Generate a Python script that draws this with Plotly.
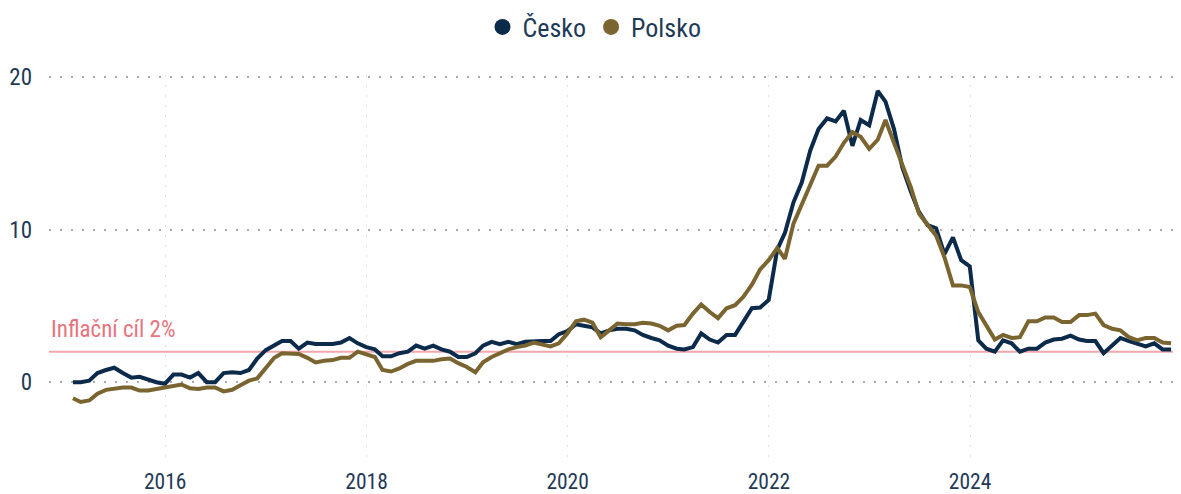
import pandas as pd
import plotly.graph_objects as go

# ---- data (annual HICP inflation, %) ----
months = (pd.date_range("2015-01-01", periods=132, freq="MS") + pd.offsets.MonthEnd(0))

cesko = [
    0.0, 0.0, 0.1, 0.6, 0.8, 0.95, 0.6, 0.3, 0.35, 0.15, 0.0, -0.1,      # 2015
    0.5, 0.5, 0.3, 0.6, 0.0, 0.0, 0.6, 0.65, 0.6, 0.8, 1.55, 2.1,        # 2016
    2.4, 2.7, 2.7, 2.2, 2.6, 2.5, 2.5, 2.5, 2.6, 2.9, 2.55, 2.3,         # 2017
    2.15, 1.7, 1.7, 1.9, 2.0, 2.4, 2.2, 2.4, 2.15, 2.0, 1.65, 1.65,      # 2018
    1.9, 2.4, 2.65, 2.5, 2.65, 2.5, 2.65, 2.7, 2.7, 2.7, 3.15, 3.35,     # 2019
    3.8, 3.7, 3.6, 3.2, 3.4, 3.5, 3.5, 3.4, 3.1, 2.9, 2.75, 2.4,         # 2020
    2.2, 2.15, 2.3, 3.2, 2.8, 2.6, 3.1, 3.1, 4.0, 4.85, 4.9, 5.4,        # 2021
    8.7, 9.8, 11.8, 13.1, 15.2, 16.6, 17.3, 17.1, 17.8, 15.5, 17.2, 16.85,  # 2022
    19.1, 18.4, 16.6, 14.1, 12.5, 11.15, 10.3, 10.1, 8.4, 9.5, 8.0, 7.6,  # 2023
    2.75, 2.2, 2.0, 2.75, 2.55, 2.0, 2.2, 2.2, 2.6, 2.8, 2.85, 3.05,     # 2024
    2.8, 2.7, 2.7, 1.9, 2.4, 2.9, 2.7, 2.5, 2.35, 2.55, 2.15, 2.15,      # 2025
]

polsko = [
    -1.05, -1.3, -1.2, -0.75, -0.5, -0.4, -0.35, -0.35, -0.55, -0.55, -0.45, -0.35,  # 2015
    -0.25, -0.15, -0.4, -0.45, -0.35, -0.35, -0.6, -0.5, -0.2, 0.1, 0.25, 0.9,       # 2016
    1.6, 1.9, 1.85, 1.85, 1.6, 1.3, 1.4, 1.45, 1.6, 1.6, 2.0, 1.8,                   # 2017
    1.65, 0.8, 0.7, 0.9, 1.2, 1.4, 1.4, 1.4, 1.5, 1.55, 1.25, 1.0,                   # 2018
    0.65, 1.3, 1.65, 1.9, 2.15, 2.3, 2.4, 2.6, 2.5, 2.35, 2.55, 3.2,                 # 2019
    4.0, 4.1, 3.9, 2.95, 3.4, 3.85, 3.8, 3.8, 3.9, 3.85, 3.7, 3.4,                   # 2020
    3.7, 3.75, 4.5, 5.1, 4.6, 4.2, 4.85, 5.05, 5.6, 6.4, 7.4, 8.0,                   # 2021
    8.8, 8.1, 10.4, 11.7, 13.0, 14.2, 14.2, 14.8, 15.7, 16.4, 16.1, 15.3,            # 2022
    15.9, 17.2, 15.7, 14.35, 12.8, 11.05, 10.3, 9.6, 8.2, 6.35, 6.35, 6.25,          # 2023
    4.6, 3.7, 2.8, 3.1, 2.9, 2.95, 4.0, 4.0, 4.25, 4.25, 3.95, 3.95,                 # 2024
    4.4, 4.4, 4.5, 3.75, 3.5, 3.4, 2.95, 2.75, 2.9, 2.9, 2.6, 2.55,                  # 2025
]

year_ticks = ["2016-01-01", "2018-01-01", "2020-01-01", "2022-01-01", "2024-01-01"]
year_labels = ["2016", "2018", "2020", "2022", "2024"]
y_ticks = [0, 10, 20]
target = 2
target_label = "Inflační cíl 2%"

NAVY = "#0c2a4a"
OLIVE = "#7a6430"
TEXT = "#1f3a57"
FONT = "Roboto Condensed, Liberation Sans Narrow, Arial Narrow, DejaVu Sans Condensed, Roboto, sans-serif"

fig = go.Figure()

fig.add_trace(go.Scatter(x=months, y=cesko, mode="lines", name="Česko",
                         line=dict(color=NAVY, width=4), showlegend=False))
fig.add_trace(go.Scatter(x=months, y=polsko, mode="lines", name="Polsko",
                         line=dict(color=OLIVE, width=4), showlegend=False))
# legend entries (circle markers)
fig.add_trace(go.Scatter(x=[None], y=[None], mode="markers", name="Česko",
                         marker=dict(color=NAVY, size=16)))
fig.add_trace(go.Scatter(x=[None], y=[None], mode="markers", name="Polsko",
                         marker=dict(color=OLIVE, size=16)))

fig.add_hline(y=target, line=dict(color="#f2a7ad", width=2), layer="below")
fig.add_annotation(x=0, xref="paper", y=target, yref="y", text=target_label,
                   showarrow=False, xanchor="left", yanchor="bottom", yshift=7,
                   xshift=0, font=dict(family=FONT, size=23, color="#e8737d"))

# the page adds an 8px body margin, so the figure is sized to fit the window
fig.update_layout(
    width=1173, height=486,
    margin=dict(l=41, r=0, t=67, b=31, autoexpand=False),
    paper_bgcolor="white", plot_bgcolor="white",
    font=dict(family=FONT, color=TEXT, size=22),
    legend=dict(orientation="h", xref="container", x=0.5, xanchor="center",
                yref="container", y=1 - 19 / 486, yanchor="middle",
                itemclick=False, itemdoubleclick=False,
                font=dict(family=FONT, size=26, color=TEXT), itemwidth=30,
                tracegroupgap=0),
    showlegend=True,
)

fig.update_xaxes(
    range=["2014-11-05", "2026-02-05"],
    tickvals=year_ticks, ticktext=year_labels,
    showgrid=True, gridcolor="#dedef2", gridwidth=1.2, griddash="2px,8px",
    showline=False, zeroline=False, ticks="",
    ticklabelstandoff=3,
    tickfont=dict(family=FONT, size=21.5, color=TEXT),
)
fig.update_yaxes(
    range=[-5.3, 20.15],
    tickvals=y_ticks,
    showgrid=True, gridcolor="#a9a9a9", gridwidth=1.5, griddash="2px,9px",
    zeroline=False, showline=False, ticks="",
    ticklabelstandoff=16,
    tickfont=dict(family=FONT, size=23, color=TEXT),
)

fig.write_html("out.html")
